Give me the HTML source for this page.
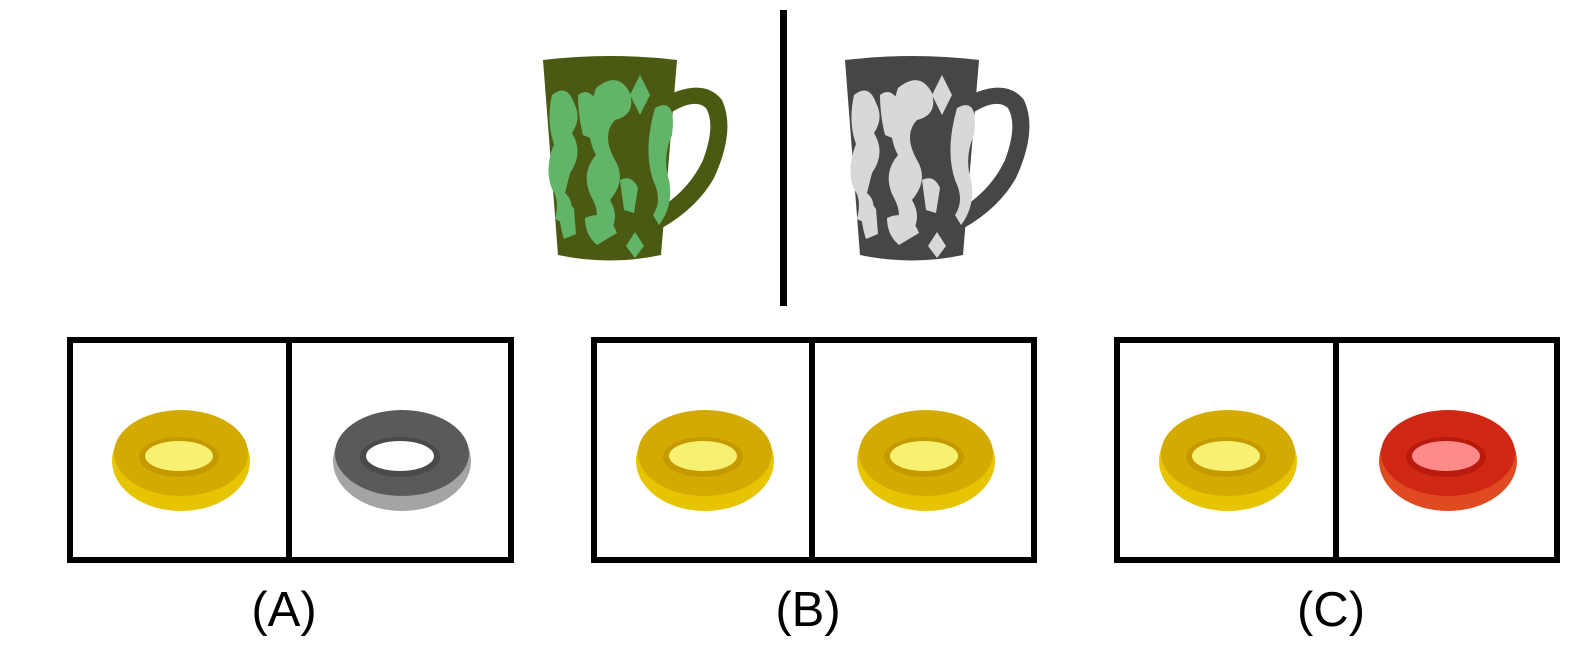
<!DOCTYPE html>
<html><head><meta charset="utf-8"><style>
html,body{margin:0;padding:0;background:#fff;width:1584px;height:650px;overflow:hidden}
svg{display:block}
text{font-family:"Liberation Sans",sans-serif}
</style></head><body>
<svg width="1584" height="650" viewBox="0 0 1584 650">
<defs>
<g id="mugbody">
 <path d="M543,60 Q610,52 677,60 L661,255 Q610,266 558,255 Z"/>
 <path d="M668,95 Q705,78 722,100 Q736,130 714,178 Q697,208 662,228 L663,206 Q690,188 703,160 Q716,125 706,108 Q695,98 672,112 Z"/>
</g>
<g id="mugpattern">
 <path d="M640,75 L650,95 L640,115 L630,95 Z"/>
 <path d="M552,95 q15,-12 22,8 q8,15 -2,30 q12,20 -2,40 l-5,20 q12,10 2,32 l-12,-6 q5,-20 -3,-30 q-8,-20 2,-45 q-8,-22 -2,-49 Z"/>
 <path d="M578,95 q10,-8 18,5 l-5,15 q12,10 4,25 l-12,-5 q-5,-20 -5,-40 Z"/>
 <path d="M596,88 q22,-18 34,5 q6,22 -15,27 q-14,15 0,40 q12,20 -5,40 q12,20 -5,40 l-12,-5 q8,-20 0,-35 q-14,-25 3,-45 q-14,-25 0,-67 Z"/>
 <path d="M655,108 q22,-12 17,27 q-10,22 -3,45 q5,25 -10,45 l-6,-10 q10,-15 0,-35 q-10,-30 2,-72 Z"/>
 <path d="M635,232 L644,246 L635,258 L626,246 Z"/>
 <path d="M560,205 q8,-6 14,4 l2,25 l-12,5 q-6,-18 -4,-34 Z"/>
 <path d="M585,218 q22,-10 32,15 l-20,12 q-12,-10 -12,-27 Z"/>
 <path d="M620,180 q12,-6 18,8 l-4,25 l-10,-3 Z"/>
</g>
</defs>

<rect x="780" y="10" width="7" height="296" fill="#000"/>

<g>
 <use href="#mugbody" fill="#4a5a12"/>
 <use href="#mugpattern" fill="#62b468"/>
</g>
<g transform="translate(302,0)">
 <use href="#mugbody" fill="#464646"/>
 <use href="#mugpattern" fill="#d8d8d8"/>
</g>

<g>
 <rect x="70" y="340" width="441" height="220" fill="none" stroke="#000" stroke-width="6"/>
 <rect x="286" y="337" width="6" height="226" fill="#000"/>
</g>
<g>
 <rect x="594" y="340" width="440" height="220" fill="none" stroke="#000" stroke-width="6"/>
 <rect x="809" y="337" width="6" height="226" fill="#000"/>
</g>
<g>
 <rect x="1117" y="340" width="440" height="220" fill="none" stroke="#000" stroke-width="6"/>
 <rect x="1333" y="337" width="6" height="226" fill="#000"/>
</g>

<g id="donuts"></g>

<text x="284" y="626" font-size="49" text-anchor="middle">(A)</text>
<text x="808" y="626" font-size="49" text-anchor="middle">(B)</text>
<text x="1331" y="626" font-size="49" text-anchor="middle">(C)</text>
</svg>
<script>
const donutX=[181,402,705,926,1228,1448];
const donutKinds=['yellow','gray','yellow','yellow','yellow','red'];
const palette={yellow:['#e6c400','#d2aa00','#f8f070','#c49a00'],gray:['#a4a4a4','#5a5a5a','#ffffff','#4a4a4a'],red:['#e04a20','#d02814','#ff8a8a','#b81a0c']};
const NS='http://www.w3.org/2000/svg';
const g=document.getElementById('donuts');
function mk(t,a){const e=document.createElementNS(NS,t);for(const k in a)e.setAttribute(k,a[k]);return e;}
donutX.forEach((x,i)=>{
 const c=palette[donutKinds[i]];
 const d=mk('g',{transform:`translate(${x},459)`});
 
 
 d.appendChild(mk('ellipse',{cx:0,cy:2,rx:69,ry:50,fill:c[0]}));
 d.appendChild(mk('ellipse',{cx:0,cy:-6,rx:67,ry:43,fill:c[1]}));
 d.appendChild(mk('ellipse',{cx:-2,cy:-2,rx:40,ry:20,fill:c[3]}));
 d.appendChild(mk('ellipse',{cx:-2,cy:-3,rx:34,ry:15,fill:c[2]}));
 g.appendChild(d);
});
</script>
</body></html>
